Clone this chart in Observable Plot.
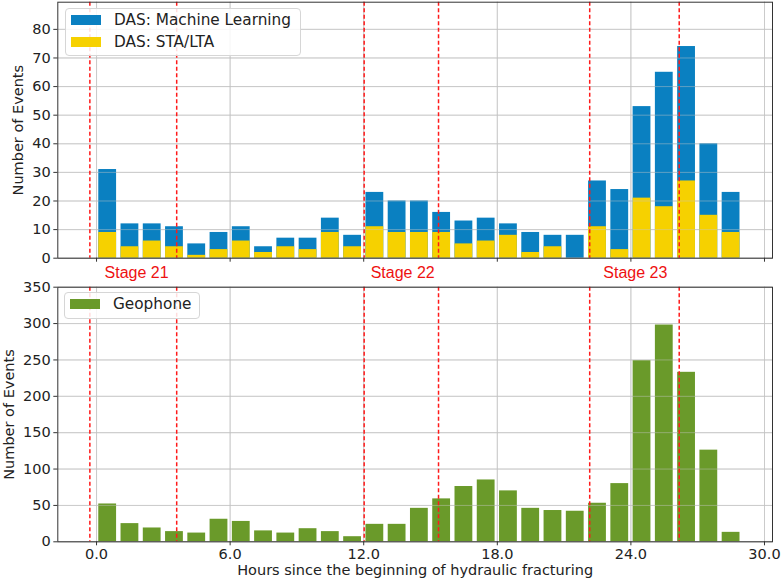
<!DOCTYPE html>
<html>
<head>
<meta charset="utf-8">
<script src="https://cdn.jsdelivr.net/npm/d3@7"></script>
<script src="https://cdn.jsdelivr.net/npm/@observablehq/plot@0.6"></script>
<style>
  html, body { margin: 0; padding: 0; background: #fff; }
  #wrap { position: relative; width: 782px; height: 580px; font-family: "DejaVu Sans", sans-serif; }
  #wrap svg { position: absolute; left: 0; overflow: visible; }
  .legend { position: absolute; background: rgba(255,255,255,0.85); border: 1px solid #d6d6d6; border-radius: 4px; font-family: "DejaVu Sans", sans-serif; font-size: 15.3px; color: #222; }
  .legend .row { position: absolute; left: 5px; display: flex; align-items: center; white-space: nowrap; }
  .legend .sw { width: 30px; height: 10px; margin-right: 13px; }
</style>
</head>
<body>
<div id="wrap"></div>
<script>
// ---- data ----
const hours = [0,1,2,3,4,5,6,7,8,9,10,11,12,13,14,15,16,17,18,19,20,21,22,23,24,25,26,27,28];
const dasML = [31,12,12,11,5,9,11,4,7,7,14,8,23,20,20,16,13,14,12,9,8,8,27,24,53,65,74,40,23];
const dasSTALTA = [9,4,6,4,1,3,6,2,4,3,9,4,11,9,9,9,5,6,8,2,4,0,11,3,21,18,27,15,9];
const geophone = [52,25,19,14,12,31,28,15,12,18,14,7,24,24,46,59,76,85,70,46,43,42,53,80,249,298,233,126,13];
const stageLines = [-0.3, 3.6, 12.02, 15.36, 22.15, 26.17];
const stageLabels = ["Stage 21", "Stage 22", "Stage 23"];
const stageLabelX = [1.8, 13.75, 24.2];
const xTicks = [0, 6, 12, 18, 24, 30];
const yTicksTop = [0,10,20,30,40,50,60,70,80];
const yTicksBottom = [0,50,100,150,200,250,300,350];

const C_ML = "#0a80c1", C_STA = "#f6d100", C_GEO = "#6a9a2a";
const xDomain = [-1.74, 30.36];

const topData = hours.map((h, i) => ({h, ml: dasML[i], sta: dasSTALTA[i]}));
const botData = hours.map((h, i) => ({h, g: geophone[i]}));
const stages = stageLabels.map((s, i) => ({s, x: stageLabelX[i]}));

const wrap = document.getElementById("wrap");
const W = 782;
const ML = 57.3, MR = W - 772;
const FS = 14.5;

const topPlot = Plot.plot({
  width: W, height: 282,
  marginLeft: ML, marginRight: MR, marginTop: 1.7, marginBottom: 282 - 257.7,
  style: {fontFamily: "DejaVu Sans, sans-serif", fontSize: "14px", color: "#222", background: "transparent", overflow: "visible"},
  x: {domain: xDomain},
  y: {domain: [0, 89.5]},
  marks: [
    Plot.gridX(xTicks, {stroke: "#b8b8b8", strokeOpacity: 0.7, strokeWidth: 1}),
    Plot.gridY(yTicksTop, {stroke: "#b8b8b8", strokeOpacity: 0.7, strokeWidth: 1}),
    Plot.rectY(topData, {x1: d => d.h + 0.1, x2: d => d.h + 0.9, y1: 0, y2: "ml", fill: C_ML}),
    Plot.rectY(topData, {x1: d => d.h + 0.1, x2: d => d.h + 0.9, y1: 0, y2: "sta", fill: C_STA}),
    Plot.gridY(yTicksTop, {stroke: "#c8c8c8", strokeOpacity: 0.45, strokeWidth: 1}),
    Plot.gridX(xTicks, {stroke: "#c8c8c8", strokeOpacity: 0.45, strokeWidth: 1}),
    Plot.ruleX(stageLines, {stroke: "#ff1a1a", strokeWidth: 1.5, strokeDasharray: "4,2.5"}),
    Plot.axisX({ticks: xTicks, tickFormat: () => "", tickSize: 4, stroke: "#333", label: null}),
    Plot.axisY({ticks: yTicksTop, tickSize: 4, tickPadding: 3, fontSize: FS, stroke: "#333",
      label: "Number of Events", labelAnchor: "center", labelArrow: "none", labelOffset: 45}),
    Plot.text(stages, {x: "x", y: 0, text: "s", dy: 15, fill: "#ee1111", fontSize: 16,
      fontFamily: "Liberation Sans, Arial, sans-serif", textAnchor: "middle", lineAnchor: "middle"}),
    Plot.frame({stroke: "#333", strokeWidth: 1})
  ]
});
topPlot.style.top = "0px";
wrap.appendChild(topPlot);

const botPlot = Plot.plot({
  width: W, height: 298,
  marginLeft: ML, marginRight: MR, marginTop: 4.7, marginBottom: 298 - (541.3 - 282),
  style: {fontFamily: "DejaVu Sans, sans-serif", fontSize: "14px", color: "#222", background: "transparent", overflow: "visible"},
  x: {domain: xDomain},
  y: {domain: [0, 350]},
  marks: [
    Plot.gridX(xTicks, {stroke: "#b8b8b8", strokeOpacity: 0.7, strokeWidth: 1}),
    Plot.gridY(yTicksBottom, {stroke: "#b8b8b8", strokeOpacity: 0.7, strokeWidth: 1}),
    Plot.rectY(botData, {x1: d => d.h + 0.1, x2: d => d.h + 0.9, y1: 0, y2: "g", fill: C_GEO}),
    Plot.gridY(yTicksBottom, {stroke: "#c8c8c8", strokeOpacity: 0.45, strokeWidth: 1}),
    Plot.gridX(xTicks, {stroke: "#c8c8c8", strokeOpacity: 0.45, strokeWidth: 1}),
    Plot.ruleX(stageLines, {stroke: "#ff1a1a", strokeWidth: 1.5, strokeDasharray: "4,2.5"}),
    Plot.axisX({ticks: xTicks, tickFormat: d => d.toFixed(1), tickSize: 4, tickPadding: 3, fontSize: FS, stroke: "#333",
      label: "Hours since the beginning of hydraulic fracturing", labelAnchor: "center", labelArrow: "none", labelOffset: 33}),
    Plot.axisY({ticks: yTicksBottom, tickSize: 4, tickPadding: 3, fontSize: FS, stroke: "#333",
      label: "Number of Events", labelAnchor: "center", labelArrow: "none", labelOffset: 54}),
    Plot.frame({stroke: "#333", strokeWidth: 1})
  ]
});
botPlot.style.top = "282px";
wrap.appendChild(botPlot);

// label font sizes
for (const svg of [topPlot, botPlot]) {
  svg.querySelectorAll("g[aria-label='y-axis label'] text, g[aria-label='x-axis label'] text").forEach(t => t.setAttribute("font-size", "14.5"));
}

// ---- legends ----
function legend(items, left, top, w, h, rowTops) {
  const box = document.createElement("div");
  box.className = "legend";
  Object.assign(box.style, {left: left + "px", top: top + "px", width: w + "px", height: h + "px"});
  items.forEach((it, i) => {
    const row = document.createElement("div");
    row.className = "row";
    row.style.top = rowTops[i] + "px";
    const sw = document.createElement("div");
    sw.className = "sw"; sw.style.background = it.color;
    const t = document.createElement("span"); t.textContent = it.label;
    row.appendChild(sw); row.appendChild(t);
    box.appendChild(row);
  });
  wrap.appendChild(box);
}
legend([{label: "DAS: Machine Learning", color: C_ML}, {label: "DAS: STA/LTA", color: C_STA}], 65, 8, 234, 46, [2, 24]);
legend([{label: "Geophone", color: C_GEO}], 64, 292, 134, 25, [2]);
</script>
</body>
</html>
